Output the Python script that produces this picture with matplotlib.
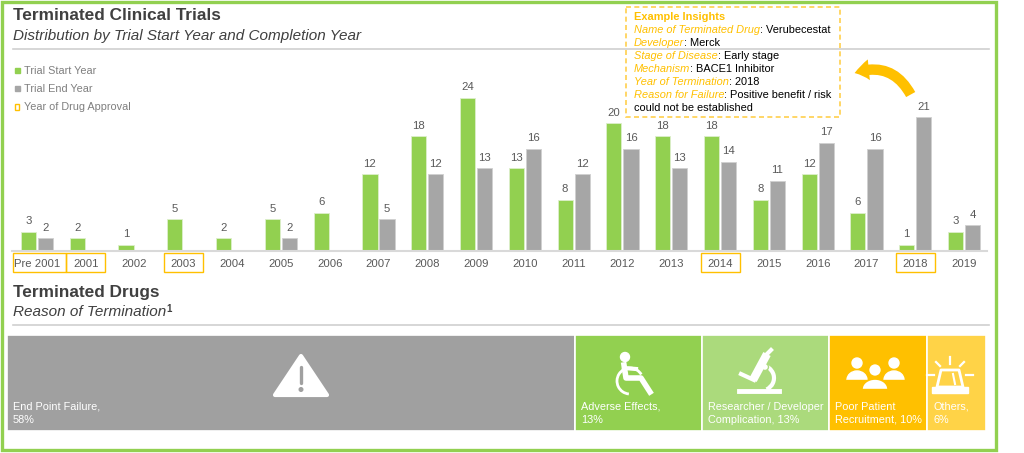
import numpy as np
import matplotlib
matplotlib.use('Agg')
import matplotlib.pyplot as plt
from matplotlib.patches import Rectangle, Polygon, Circle, Arc, FancyArrowPatch, Ellipse
import matplotlib.transforms as mtrans

plt.rcParams['font.family'] = ['Liberation Sans', 'DejaVu Sans']

# Data
years = ['Pre 2001', '2001', '2002', '2003', '2004', '2005', '2006', '2007', '2008', '2009',
         '2010', '2011', '2012', '2013', '2014', '2015', '2016', '2017', '2018', '2019']
start_year = [3, 2, 1, 5, 2, 5, 6, 12, 18, 24, 13, 8, 20, 18, 18, 8, 12, 6, 1, 3]
end_year = [2, 0, 0, 0, 0, 2, 0, 5, 12, 13, 16, 12, 16, 13, 14, 11, 17, 16, 21, 4]
approval_years = ['Pre 2001', '2001', '2003', '2014', '2018']

reasons = ['End Point Failure,\n58%', 'Adverse Effects,\n13%',
           'Researcher / Developer\nComplication, 13%', 'Poor Patient\nRecruitment, 10%',
           'Others,\n6%']
reason_pct = [58, 13, 13, 10, 6]

insights = [('Name of Terminated Drug', 'Verubecestat'),
            ('Developer', 'Merck'),
            ('Stage of Disease', 'Early stage'),
            ('Mechanism', 'BACE1 Inhibitor'),
            ('Year of Termination', '2018'),
            ('Reason for Failure', 'Positive benefit / risk')]

GREEN = '#92D050'
GREY = '#A6A6A6'
LGREEN = '#ABDA7C'
ORANGE = '#FFC000'
YELLOW = '#FFD347'
DARK = '#404040'
TXT = '#595959'

W, H = 1024, 453
fig = plt.figure(figsize=(W / 100, H / 100), dpi=100)

def fx(px):
    return px / W

def fy(py):
    return 1 - py / H

# ---- bar chart
ax = fig.add_axes([fx(12), fy(251), fx(975), 191 / H])
ax.patch.set_alpha(0)
x = np.arange(len(years))
bw = 0.31
ax.bar(x - bw / 2 - 0.02, start_year, bw, color=GREEN, edgecolor='#DDEFCB', linewidth=0.6)
end_plot = [v if v > 0 else np.nan for v in end_year]
ax.bar(x + bw / 2 + 0.02, end_plot, bw, color=GREY, edgecolor='#D0D0D0', linewidth=0.6)
for i in range(len(years)):
    ax.annotate(str(start_year[i]), (x[i] - bw / 2 - 0.02, start_year[i]), xytext=(0, 4),
                textcoords='offset points', ha='center', va='bottom', fontsize=8.2, color=TXT)
    if end_year[i] > 0:
        ax.annotate(str(end_year[i]), (x[i] + bw / 2 + 0.02, end_year[i]), xytext=(0, 4),
                    textcoords='offset points', ha='center', va='bottom', fontsize=8.2, color=TXT)
ax.set_xlim(-0.51, 19.47)
ax.set_ylim(0, 29.95)
ax.set_yticks([])
ax.set_xticks(x)
ax.set_xticklabels(years, fontsize=8.2, color=TXT)
ax.tick_params(axis='x', length=0, pad=6)
for s in ['top', 'left', 'right']:
    ax.spines[s].set_visible(False)
ax.spines['bottom'].set_color('#D9D9D9')
ax.spines['bottom'].set_linewidth(1.5)

# approval year boxes under the tick labels
trans = mtrans.blended_transform_factory(ax.transData, ax.transAxes)
for lab in approval_years:
    i = years.index(lab)
    bx = 1.08 if len(lab) > 4 else 0.8
    cx = x[i] + (0.05 if len(lab) > 4 else 0)
    ax.add_patch(Rectangle((cx - bx / 2, -21 / 191), bx, 19 / 191, transform=trans,
                           fill=False, edgecolor=ORANGE, linewidth=1.0, clip_on=False))

# ---- treemap of termination reasons
tm = fig.add_axes([fx(7), fy(431), fx(979), 96 / H])
lefts = np.concatenate([[0], np.cumsum(reason_pct)[:-1]])
tm_colors = ['#A0A0A0', GREEN, LGREEN, ORANGE, YELLOW]
tm.barh(0, reason_pct, left=lefts, height=1, color=tm_colors, edgecolor='white', linewidth=1.2)
tm.set_xlim(0, 100)
tm.set_ylim(-0.5, 0.5)
tm.axis('off')
for lab, l in zip(reasons, lefts):
    tm.annotate(lab, (l, -0.5), xytext=(6, 6), textcoords='offset pixels', ha='left', va='bottom',
                fontsize=7.8, color='white', linespacing=1.4)

# ---- overlay for titles, legend, box, icons and frame
ov = fig.add_axes([0, 0, 1, 1], zorder=5)
ov.set_xlim(0, W)
ov.set_ylim(H, 0)
ov.axis('off')
ov.patch.set_alpha(0)

ov.add_patch(Rectangle((2, 2), 994, 448, fill=False, edgecolor=GREEN, linewidth=2.4))
ov.text(13, 16, 'Terminated Clinical Trials', fontsize=12.4, fontweight='bold', color=DARK, va='center')
ov.text(13, 36, 'Distribution by Trial Start Year and Completion Year', fontsize=11, style='italic',
        color=DARK, va='center')
ov.plot([13, 989], [49, 49], color='#D0D0D0', lw=1.2)
ov.text(13, 293, 'Terminated Drugs', fontsize=12.4, fontweight='bold', color=DARK, va='center')
ov.text(13, 312, 'Reason of Termination', fontsize=11, style='italic', color=DARK, va='center')
ov.text(166, 309, '1', fontsize=7, fontweight='bold', color=DARK, va='center')
ov.plot([13, 989], [325, 325], color='#D0D0D0', lw=1.2)

# legend
leg = [('Trial Start Year', GREEN, True), ('Trial End Year', GREY, True),
       ('Year of Drug Approval', ORANGE, False)]
for k, (lab, c, filled) in enumerate(leg):
    yy = 71 + k * 18
    if filled:
        ov.add_patch(Rectangle((15, yy - 3), 5, 5, color=c))
    else:
        ov.add_patch(Rectangle((15, yy - 3.5), 4, 6, fill=False, edgecolor=c, lw=1))
    ov.text(24, yy, lab, fontsize=7.8, color='#7F7F7F', va='center')

# insights box
ov.add_patch(Rectangle((626, 7), 214, 110, fill=False, edgecolor='#FFD04D', lw=1.2, ls=(0, (3, 2))))
ov.text(634, 17, 'Example Insights', fontsize=7.9, fontweight='bold', color=ORANGE, va='center')
for k, (lab, val) in enumerate(insights):
    t1 = ov.text(634, 30 + k * 12.9, lab, fontsize=7.9, style='italic', color=ORANGE, va='center')
    ov.annotate(': ' + val, xy=(1, 0), xycoords=t1, ha='left', va='bottom', fontsize=7.9, color='black')
ov.text(634, 108, 'could not be established', fontsize=7.9, color='black', va='center')

# curved arrow
ov.add_patch(FancyArrowPatch((912, 97), (852, 74), connectionstyle='arc3,rad=0.45',
                             arrowstyle='simple,head_length=7,head_width=10,tail_width=5',
                             color=ORANGE, lw=0, mutation_scale=1.5))

# icons
# warning triangle
ov.add_patch(Polygon([[301, 356], [275, 395], [327, 395]], closed=True, color='white',
                     joinstyle='round', lw=3, ec='white'))
ov.plot([301, 301], [367, 383], color='#A0A0A0', lw=2.4, solid_capstyle='round')
ov.add_patch(Circle((301, 389.5), 1.8, color='#A0A0A0'))
# wheelchair
ov.add_patch(Circle((625, 357), 4.5, color='white'))
ov.plot([624, 626, 641, 650], [365, 378, 378, 392], color='white', lw=4, solid_joinstyle='round')
ov.plot([624, 636], [368, 369], color='white', lw=3)
ov.add_patch(Arc((630, 381), 26, 26, theta1=95, theta2=330, color='white', lw=2))
# microscope
ov.plot([739, 779], [391, 391], color='white', lw=3.5)
ov.add_patch(Arc((760, 378), 28, 26, theta1=-90, theta2=60, color='white', lw=3))
ov.plot([753, 767], [380, 354], color='white', lw=6, solid_capstyle='butt')
ov.plot([765, 771], [356, 350], color='white', lw=3)
ov.add_patch(Circle((765, 367), 3.5, color='white', ec=LGREEN, lw=1))
ov.plot([741, 754], [374, 380], color='white', lw=3)
# people
for cx, cy, r in [(857, 363, 5), (894, 363, 5)]:
    ov.add_patch(Circle((cx, cy), r, color='white'))
    ov.add_patch(Ellipse((cx, cy + 17), 20, 18, color='white'))
ov.add_patch(Rectangle((846, 380), 60, 10, color=ORANGE))
ov.add_patch(Circle((875, 370), 6.5, color='white', ec=ORANGE, lw=1.2))
ov.add_patch(Ellipse((875, 389), 26, 20, color='white', ec=ORANGE, lw=1.2))
ov.add_patch(Rectangle((860, 389), 30, 10, color=ORANGE))

# alarm light
ov.add_patch(Polygon([[941, 370], [959, 370], [963, 387], [937, 387]], closed=True,
                     fill=False, ec='white', lw=2, joinstyle='round'))
ov.add_patch(Rectangle((932, 387), 36, 6, color='white'))
ov.plot([953, 955], [374, 384], color='white', lw=1.5)
for (x0, y0, x1, y1) in [(950, 357, 950, 364), (936, 362, 940, 366), (964, 362, 960, 366),
                         (927, 375, 934, 375), (966, 375, 973, 375)]:
    ov.plot([x0, x1], [y0, y1], color='white', lw=1.6)

fig.savefig('out.png', dpi=100)
